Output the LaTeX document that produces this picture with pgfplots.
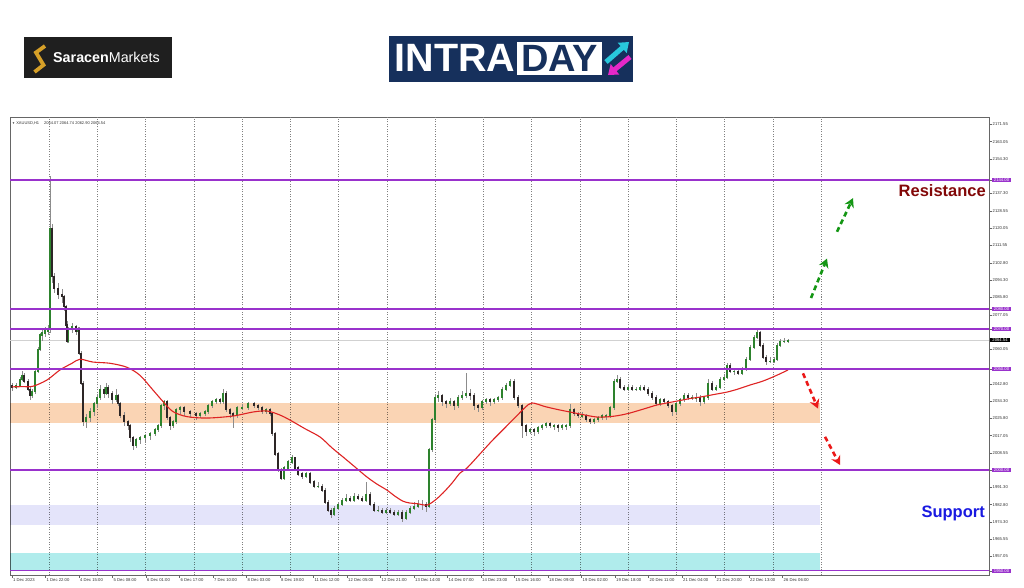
\documentclass[border=0pt]{standalone}
\usepackage{pgfplots}
\pgfplotsset{compat=1.18}
\usepackage{pgfplotstable}
\usepackage{fontspec}
\setmainfont{Liberation Sans}
\usetikzlibrary{arrows.meta}
\definecolor{mtpurple}{RGB}{153,50,204}
\definecolor{bandorange}{RGB}{250,212,180}
\definecolor{bandlav}{RGB}{228,228,250}
\definecolor{bandcyan}{RGB}{176,236,236}
\definecolor{bull}{RGB}{45,130,45}
\definecolor{bear}{RGB}{45,38,38}
\definecolor{navyone}{RGB}{22,48,92}
\definecolor{goldone}{RGB}{214,160,40}
\definecolor{resred}{RGB}{130,8,8}
\definecolor{supblue}{RGB}{25,25,225}
\definecolor{arrgreen}{RGB}{20,150,20}
\definecolor{arrred}{RGB}{235,25,25}
\definecolor{logocyan}{RGB}{40,200,220}
\definecolor{logomag}{RGB}{230,40,200}
\definecolor{mared}{RGB}{222,35,35}

\pgfplotstableread{
x o h l c
12 2042 2043 2039 2041
16 2041 2043 2040 2042
20 2042 2046 2041 2045
22 2045 2049 2044 2047
24 2047 2048 2043 2044
28 2044 2045 2039 2040
30 2040 2041 2035 2037
32 2037 2040 2036 2039
35 2039 2050 2038 2049
38 2049 2061 2048 2060
40 2060 2068 2059 2067
42 2067 2070 2064 2068
45 2068 2071 2066 2069
48 2069 2072 2067 2070
50 2070 2146 2068 2120
52 2120 2122 2093 2096
54 2096 2098 2088 2090
58 2090 2093 2085 2087
62 2087 2090 2083 2086
64 2086 2087 2079 2081
66 2081 2082 2070 2072
67 2072 2074 2063 2064
68 2064 2071 2063 2070
72 2070 2073 2068 2071
76 2071 2072 2067 2069
78 2069 2071 2067 2070
79 2070 2071 2057 2058
81 2058 2059 2042 2043
83 2043 2044 2022 2024
86 2024 2028 2021 2026
90 2026 2031 2024 2029
94 2029 2034 2027 2033
97 2033 2037 2031 2036
100 2036 2042 2035 2040
104 2040 2041 2036 2038
106 2038 2043 2037 2041
108 2041 2042 2036 2038
112 2038 2039 2033 2035
116 2035 2040 2034 2037
118 2037 2038 2032 2033
120 2033 2034 2026 2027
124 2027 2029 2022 2024
128 2024 2025 2020 2022
130 2022 2023 2014 2016
133 2016 2017 2010 2012
136 2012 2016 2011 2015
140 2015 2017 2013 2016
145 2016 2018 2014 2017
150 2017 2019 2015 2018
155 2018 2021 2017 2020
158 2020 2023 2019 2022
161 2022 2033 2021 2032
164 2032 2035 2030 2034
167 2034 2035 2025 2026
170 2026 2027 2020 2022
173 2022 2025 2021 2024
176 2024 2031 2023 2030
180 2030 2032 2028 2031
184 2031 2032 2027 2029
190 2029 2030 2026 2028
196 2028 2029 2025 2027
200 2027 2029 2026 2028
205 2028 2030 2027 2029
208 2029 2033 2028 2032
212 2032 2035 2031 2034
216 2034 2036 2033 2035
220 2035 2036 2033 2034
223 2034 2040 2033 2038
226 2038 2039 2029 2030
230 2030 2031 2026 2028
233 2028 2029 2021 2027
237 2027 2032 2026 2031
242 2031 2033 2030 2031
248 2031 2034 2030 2033
254 2033 2034 2031 2032
258 2032 2033 2030 2031
262 2031 2032 2028 2029
266 2029 2031 2028 2030
270 2030 2031 2027 2028
272 2028 2029 2017 2018
275 2018 2019 2007 2008
278 2008 2009 1999 2000
281 2000 2001 1995 1996
284 1996 2002 1995 2001
288 2001 2005 2000 2004
292 2004 2007.5 2003 2006
295 2006 2006.5 2000 2001
298 2001 2002 1997 1998
302 1998 1999 1995.5 1997
306 1997 1999 1996 1998
310 1998 1999 1993 1994
314 1994 1995 1991 1992
318 1992 1994 1991 1992
322 1992 1993 1989 1990
325 1990 1991 1983 1984
328 1984 1985 1979 1980
331 1980 1981 1976 1978
334 1978 1982 1977 1981
338 1981 1984 1980 1983
342 1983 1986 1982 1985
346 1985 1988 1984 1986
350 1986 1987 1984 1985
354 1985 1988.5 1984 1987
358 1987 1988 1985 1986
362 1986 1987 1984 1985
366 1985 1994 1984 1988
370 1988 1989 1982 1983
374 1983 1984 1979 1980
378 1980 1982 1979 1980
382 1980 1981 1978 1979
386 1979 1981 1978 1980
390 1980 1981 1978 1979
394 1979 1980 1977 1978
398 1978 1980 1977 1979
402 1979 1980 1974 1976
406 1976 1980 1975 1979
410 1979 1982 1978 1981
414 1981 1984 1980 1982
418 1982 1985 1981 1983
422 1983 1985 1980 1983
426 1983 1984 1979 1982
429 1982 2011 1981 2010
432 2010 2026 2009 2025
435 2025 2038 2024 2036
438 2036 2039 2034 2037
442 2037 2038 2032 2034
446 2034 2035 2031 2033
450 2033 2036 2032 2034
454 2034 2035 2030 2032
458 2032 2037 2031 2036
462 2036 2039 2035 2037
466 2037 2048 2036 2038
470 2038 2040 2035 2037
474 2037 2038 2030 2032
478 2032 2033 2029 2031
482 2031 2035 2030 2034
486 2034 2036 2033 2035
490 2035 2036 2032 2034
494 2034 2036 2033 2035
498 2035 2037 2034 2036
502 2036 2041 2035 2040
506 2040 2043 2039 2042
510 2042 2045 2041 2044
514 2044 2045 2035 2036
518 2036 2037 2031 2032
522 2032 2033 2016 2022
526 2022 2023 2017 2019
530 2019 2021 2018 2020
534 2020 2021 2017 2019
538 2019 2022 2018 2021
542 2021 2023 2020 2022
546 2022 2024 2021 2023
550 2023 2024 2021 2022
554 2022 2023 2020 2022
558 2022 2023 2019 2021
562 2021 2023 2020 2022
566 2022 2023 2020 2022
570 2022 2033 2021 2030
574 2030 2031 2027 2028
578 2028 2029 2026 2027
582 2027 2029 2026 2027
586 2027 2028 2024 2025
590 2025 2026 2023 2024
594 2024 2026 2023 2025
598 2025 2027 2024 2026
602 2026 2028 2025 2027
606 2027 2028 2025 2027
610 2027 2032 2026 2031
614 2031 2045 2030 2044
617 2044 2047 2043 2045
620 2045 2046 2040 2041
624 2041 2042 2039 2040
628 2040 2042 2039 2041
632 2041 2042 2039 2040
636 2040 2041 2039 2040
640 2040 2042 2039 2041
644 2041 2042 2039 2040
648 2040 2041 2037 2038
652 2038 2039 2035 2036
656 2036 2037 2032 2033
660 2033 2036 2032 2035
664 2035 2036 2033 2034
668 2034 2035 2031 2032
672 2032 2033 2027 2029
676 2029 2034 2028 2033
680 2033 2036 2032 2035
684 2035 2038 2034 2037
688 2037 2038 2035 2036
692 2036 2037 2035 2036
696 2036 2038 2034 2036
700 2036 2037 2032 2034
704 2034 2037 2033 2036
708 2036 2045 2035 2043
712 2043 2044 2039 2040
716 2040 2042 2039 2041
720 2041 2046 2040 2045
724 2045 2047 2044 2046
727 2046 2053 2045 2052
730 2052 2053 2048 2049
734 2049 2050 2047 2049
738 2049 2050 2047 2048
742 2048 2051 2047 2050
746 2050 2056 2049 2055
750 2055 2062 2054 2061
754 2061 2067 2060 2066
757 2066 2070.5 2065 2068
760 2068 2069 2061 2062
763 2062 2063 2055 2056
766 2056 2057 2052 2054
770 2054 2056 2053 2054
774 2054 2056 2053 2055
777 2055 2063 2054 2062
780 2062 2065 2061 2064
784 2064 2065.5 2063 2064
788 2064 2065 2063 2064.5
}\candles

\begin{document}
\begin{tikzpicture}[x=1pt,y=1pt]
\useasboundingbox (0,0) rectangle (1024,587);
\begin{axis}[
  at={(10pt,12pt)}, anchor=south west, scale only axis,
  width=979pt, height=458pt,
  xmin=10, xmax=989, ymin=1947.87, ymax=2175.28,
  axis line style={black!60, line width=0.5pt},
  tick style={black!60, line width=0.4pt},
  major tick length=2.5pt, tick align=outside,
  xtick pos=left, ytick pos=right, yticklabel pos=right,
  xtick={12,45.5,79,112.5,146,179.5,213,246.5,280,313.5,347,380.5,414,447.5,481,514.5,548,581.5,615,648.5,682,715.5,749,782.5},
  xticklabels={1 Dec 2023,1 Dec 22:00,4 Dec 15:00,5 Dec 08:00,6 Dec 01:00,6 Dec 17:00,7 Dec 10:00,8 Dec 03:00,8 Dec 19:00,11 Dec 12:00,12 Dec 05:00,12 Dec 21:00,13 Dec 14:00,14 Dec 07:00,14 Dec 23:00,15 Dec 16:00,18 Dec 09:00,19 Dec 02:00,19 Dec 18:00,20 Dec 11:00,21 Dec 04:00,21 Dec 20:00,22 Dec 13:00,26 Dec 06:00},
  xticklabel style={font=\fontsize{4.2}{5}\selectfont, text=black!80, anchor=north west, inner sep=1pt},
  ytick={2171.55,2163.05,2154.30,2137.30,2128.55,2120.05,2111.55,2102.80,2094.30,2085.80,2077.05,2060.05,2042.80,2034.30,2025.80,2017.05,2008.55,1991.30,1982.80,1974.30,1965.55,1957.05},
  yticklabels={2171.55,2163.05,2154.30,2137.30,2128.55,2120.05,2111.55,2102.80,2094.30,2085.80,2077.05,2060.05,2042.80,2034.30,2025.80,2017.05,2008.55,1991.30,1982.80,1974.30,1965.55,1957.05},
  yticklabel style={font=\fontsize{4.2}{5}\selectfont, text=black!80, anchor=west, inner sep=1pt},
  extra y ticks={2144,2080,2070,2050,2000,1950},
  extra y tick labels={2144.00,2080.00,2070.00,2050.00,2000.00,1950.00},
  extra y tick style={yticklabel style={fill=mtpurple, text=white, inner xsep=2.2pt, inner ysep=0.6pt}},
  extra x ticks={49,97.25,145.5,193.75,242,290.25,338.5,386.75,435,483.25,531.5,579.75,628,676.25,724.5,772.75,821},
  extra x tick labels={},
  extra x tick style={xmajorgrids=true, major tick length=0pt},
  major grid style={black!50, dash pattern=on 1pt off 1.5pt, line width=0.45pt},
]
% zones
\addplot[draw=none, fill=bandorange, blend mode=multiply] coordinates {(10,2023.5) (820,2023.5) (820,2033.5) (10,2033.5)};
\addplot[draw=none, fill=bandlav, blend mode=multiply] coordinates {(10,1972.5) (820,1972.5) (820,1982.8) (10,1982.8)};
\addplot[draw=none, fill=bandcyan, blend mode=multiply] coordinates {(10,1950.5) (820,1950.5) (820,1959) (10,1959)};
% current price line
\addplot[black!18, line width=0.8pt] coordinates {(10,2064.54) (989,2064.54)};
% wicks
\addplot[draw=none, error bars/.cd, y dir=both, y explicit, error mark=none,
  error bar style={draw=black!45, line width=0.5pt}]
  table[x=x, y expr={(\thisrow{h}+\thisrow{l})/2}, y error expr={(\thisrow{h}-\thisrow{l})/2}] {\candles};
% bull bodies
\addplot[draw=none, error bars/.cd, y dir=both, y explicit, error mark=none,
  error bar style={draw=bull, line width=1.6pt}]
  table[x=x, y expr={(\thisrow{o}+\thisrow{c})/2}, y error expr={(\thisrow{c}>=\thisrow{o}) ? ((\thisrow{c}-\thisrow{o})/2+0.3) : 0}] {\candles};
% bear bodies
\addplot[draw=none, error bars/.cd, y dir=both, y explicit, error mark=none,
  error bar style={draw=bear, line width=1.6pt}]
  table[x=x, y expr={(\thisrow{o}+\thisrow{c})/2}, y error expr={(\thisrow{c}<\thisrow{o}) ? ((\thisrow{o}-\thisrow{c})/2+0.3) : 0}] {\candles};
% moving average
\addplot[mared, line width=1.1pt, smooth] coordinates {
(12,2041.3) (22,2041.4) (33,2041.6) (47,2044.7) (60,2049.7) (72,2053) (80,2055)
(93,2053.6) (110,2053) (127,2051) (140,2047) (153,2039.7) (163,2034) (173,2029)
(187,2026.5) (207,2025.8) (233,2026.8) (253,2028.8) (267,2029.3) (280,2027.3)
(290,2024.8) (305,2020.5) (320,2016.4) (332,2011) (343,2006.5) (355,2001.5)
(367,1996.5) (377,1993) (387,1990) (395,1987) (403,1984.5) (410,1983.6)
(417,1983.3) (427,1982.6) (435,1985) (443,1988.6) (452,1993.5) (460,1998.5)
(467,2001) (480,2008) (492,2014.5) (503,2020) (515,2026) (525,2031) (532,2033.3)
(545,2031.5) (558,2030) (570,2028.8) (583,2027.5) (597,2026.3) (610,2026.5)
(620,2027.2) (630,2028.3) (645,2030.5) (657,2032.3) (667,2033.3) (680,2034.5)
(690,2035.5) (700,2036.2) (714,2037.5) (727,2038.7) (738,2040.2) (750,2042.2)
(762,2044) (773,2046.2) (781,2048) (788,2049.7)};
% level lines
\addplot[draw=mtpurple, line width=1.4pt] coordinates {(10,2144) (989,2144)};
\addplot[draw=mtpurple, line width=1.4pt] coordinates {(10,2080) (989,2080)};
\addplot[draw=mtpurple, line width=1.4pt] coordinates {(10,2070) (989,2070)};
\addplot[draw=mtpurple, line width=1.4pt] coordinates {(10,2050.15) (989,2050.15)};
\addplot[draw=mtpurple, line width=1.4pt] coordinates {(10,2000) (989,2000)};
\addplot[draw=mtpurple, line width=1.4pt] coordinates {(10,1950) (989,1950)};
% scenario arrows
\addplot[arrgreen, line width=2.6pt, dash pattern=on 5pt off 3.5pt, -{Stealth[length=9pt,width=10pt,inset=3pt]}] coordinates {(811,2085.4) (827,2105)};
\addplot[arrgreen, line width=2.6pt, dash pattern=on 5pt off 3.5pt, -{Stealth[length=9pt,width=10pt,inset=3pt]}] coordinates {(837,2118.3) (853,2135)};
\addplot[arrred, line width=2.6pt, dash pattern=on 5pt off 3.5pt, -{Stealth[length=9pt,width=10pt,inset=3pt]}] coordinates {(803,2048) (818,2030.5)};
\addplot[arrred, line width=2.6pt, dash pattern=on 5pt off 3.5pt, -{Stealth[length=9pt,width=10pt,inset=3pt]}] coordinates {(825,2016.5) (840,2002.5)};
\end{axis}
% chart header
\node[anchor=west, inner sep=0pt, font=\fontsize{4}{5}\selectfont, text=black!80] at (12,463.5) {\fontsize{3}{4}\selectfont▼\fontsize{4}{5}\selectfont\ XAUUSD,H1\hspace{5pt}2064.07 2064.74 2062.90 2064.54};
% current price tag
\node[anchor=west, fill=black, text=white, inner xsep=2.2pt, inner ysep=0.6pt, font=\fontsize{4.2}{5}\selectfont] at (990,247) {2064.54};
% annotations
\node[font=\bfseries\fontsize{16.5}{18}\selectfont, text=resred, anchor=east, inner sep=0pt] at (986,396) {Resistance};
\node[font=\bfseries\fontsize{16.5}{18}\selectfont, text=supblue, anchor=east, inner sep=0pt] at (985,74) {Support};
% Saracen logo
\fill[black!88] (24,509) rectangle (172,550);
\draw[goldone, line width=3.8pt, line join=miter] (45,541) -- (36,534.5) -- (43.5,522) -- (34.5,515);
\node[anchor=west, text=white, inner sep=0pt, font=\fontsize{14.3}{16}\selectfont] at (53,529.5) {\textbf{Saracen}Markets};
% INTRADAY logo
\fill[navyone] (389,505) rectangle (633,551);
\fill[white] (517,512) rectangle (602,545);
\node[anchor=base west, text=white, inner sep=0pt, font=\bfseries\fontsize{39.5}{42}\selectfont] at (394.5,515) {INTRA};
\node[anchor=base, text=navyone, inner sep=0pt, font=\bfseries\fontsize{38}{42}\selectfont] at (559.5,515) {DAY};
\draw[logocyan, line width=5pt, -{Triangle[length=9pt,width=13pt]}] (606,525) -- (629,545);
\draw[logomag, line width=5pt, -{Triangle[length=9pt,width=13pt]}] (630,530) -- (608,512);
\end{tikzpicture}
\end{document}
